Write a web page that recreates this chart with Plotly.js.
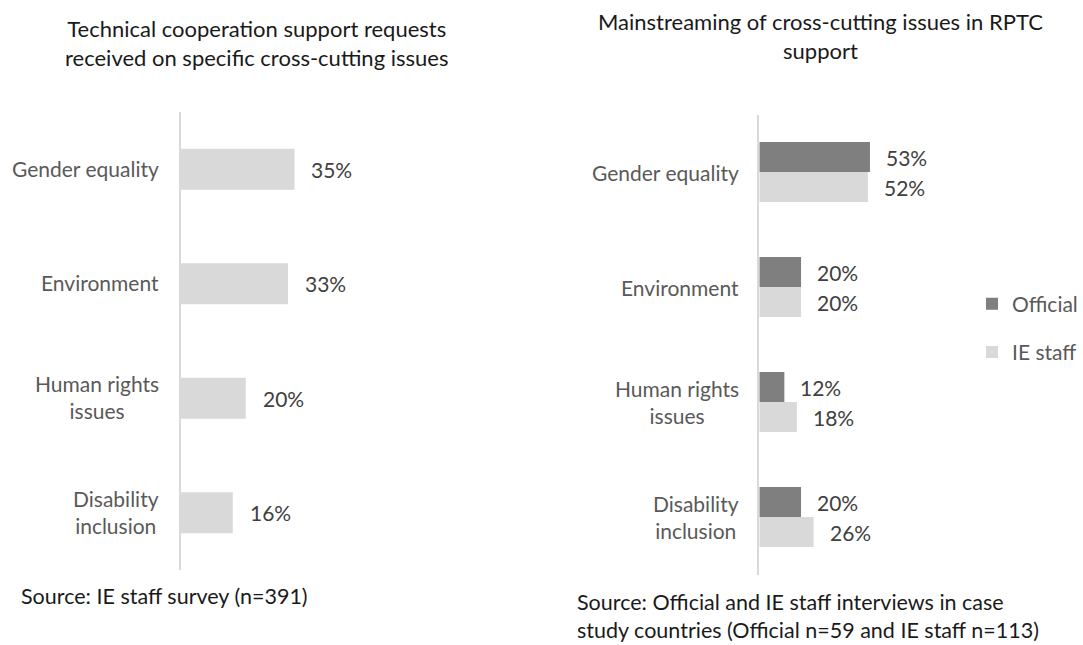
<!DOCTYPE html>
<html>
<head>
<meta charset="utf-8">
<script src="https://cdn.plot.ly/plotly-3.0.1.min.js"></script>
<style>html,body{margin:0;padding:0;background:#fff;}#chart{width:1083px;height:645px;}</style>
</head>
<body>
<div id="chart"></div>
<script>
const categories = ["Gender equality", "Environment", "Human rights<br>issues", "Disability<br>inclusion"];
const requestShares = [35, 33, 20, 16];
const officialShares = [53, 20, 12, 20];
const ieStaffShares = [52, 20, 18, 26];
const seriesNames = ["Official", "IE staff"];
const titleLeft = "Technical cooperation support requests<br>received on specific cross-cutting issues";
const titleRight = "Mainstreaming of cross-cutting issues in RPTC<br>support";
const sourceLeft = "Source: IE staff survey (n=391)";
const sourceRight = "Source: Official and IE staff interviews in case<br>study countries (Official n=59 and IE staff n=113)";

const FONT = "Lato, 'Open Sans', sans-serif";
const W = 1083, H = 645;
const px = v => v / W;
const py = v => (H - v) / H;

const LIGHT = "#d9d9d9", DARK = "#7f7f7f";

const traces = [
  {type: "bar", orientation: "h", y: categories, x: requestShares, xaxis: "x", yaxis: "y",
   marker: {color: LIGHT}, width: 0.36, showlegend: false, hoverinfo: "skip"},
  {type: "bar", orientation: "h", y: categories, x: officialShares, xaxis: "x2", yaxis: "y2",
   name: seriesNames[0], marker: {color: DARK}, width: 0.26, offset: -0.26, legendgroup: "a", hoverinfo: "skip"},
  {type: "bar", orientation: "h", y: categories, x: ieStaffShares, xaxis: "x2", yaxis: "y2",
   name: seriesNames[1], marker: {color: LIGHT}, width: 0.26, offset: 0, legendgroup: "b", hoverinfo: "skip"}
];

const annotations = [];
const labelFont = {family: FONT, size: 21, color: "#404040"};
const catFont = {family: FONT, size: 21, color: "#595959"};

categories.forEach((c, i) => {
  annotations.push({xref: "x domain", yref: "y", x: 0, y: c, xanchor: "right", yanchor: "middle",
    xshift: -20, yshift: 1, align: "center", text: c, showarrow: false, font: catFont});
  annotations.push({xref: "x2 domain", yref: "y2", x: 0, y: c, xanchor: "right", yanchor: "middle",
    xshift: -18, align: "center", text: c, showarrow: false, font: catFont});
  annotations.push({xref: "x", yref: "y", x: requestShares[i], y: c, xanchor: "left", yanchor: "middle",
    xshift: 15, text: requestShares[i] + "%", showarrow: false, font: labelFont});
  annotations.push({xref: "x2", yref: "y2", x: officialShares[i], y: c, xanchor: "left", yanchor: "middle",
    xshift: 14, yshift: 15, text: officialShares[i] + "%", showarrow: false, font: labelFont});
  annotations.push({xref: "x2", yref: "y2", x: ieStaffShares[i], y: c, xanchor: "left", yanchor: "middle",
    xshift: 14, yshift: -15, text: ieStaffShares[i] + "%", showarrow: false, font: labelFont});
});

const titleFont = {family: FONT, size: 22, color: "#1a1a1a"};
const srcFont = {family: FONT, size: 21.5, color: "#1a1a1a"};
annotations.push({xref: "paper", yref: "paper", x: px(257), y: py(43), xanchor: "center", yanchor: "middle",
  align: "center", text: titleLeft, showarrow: false, font: titleFont});
annotations.push({xref: "paper", yref: "paper", x: px(821), y: py(36), xanchor: "center", yanchor: "middle",
  align: "center", text: titleRight, showarrow: false, font: titleFont});
annotations.push({xref: "paper", yref: "paper", x: px(19), y: py(596), xanchor: "left", yanchor: "middle",
  align: "left", text: sourceLeft, showarrow: false, font: srcFont});
annotations.push({xref: "paper", yref: "paper", x: px(576), y: py(616), xanchor: "left", yanchor: "middle",
  align: "left", text: sourceRight, showarrow: false, font: srcFont});

const yBase = {type: "category", range: [3.5, -0.5], showline: true, linecolor: LIGHT, linewidth: 2,
  showticklabels: false, ticks: "", showgrid: false, zeroline: false, fixedrange: true};

const layout = {
  width: W, height: H,
  margin: {l: 0, r: 0, t: 0, b: 0, pad: 0},
  paper_bgcolor: "#fff", plot_bgcolor: "#fff",
  font: {family: FONT},
  barmode: "overlay",
  showlegend: true,
  legend: {x: px(973), y: py(328), xanchor: "left", yanchor: "middle", traceorder: "grouped",
    tracegroupgap: 18, font: {family: FONT, size: 21, color: "#595959"}, bgcolor: "rgba(0,0,0,0)"},
  xaxis: {domain: [px(181), px(376)], range: [0, 60], visible: false, fixedrange: true},
  yaxis: Object.assign({}, yBase, {domain: [py(570), py(112)], anchor: "x"}),
  xaxis2: {domain: [px(760), px(969)], range: [0, 100], visible: false, fixedrange: true, anchor: "y2"},
  yaxis2: Object.assign({}, yBase, {domain: [py(574.5), py(114.5)], anchor: "x2"}),
  annotations: annotations
};

Plotly.newPlot("chart", traces, layout, {displayModeBar: false, staticPlot: true});
</script>
</body>
</html>
